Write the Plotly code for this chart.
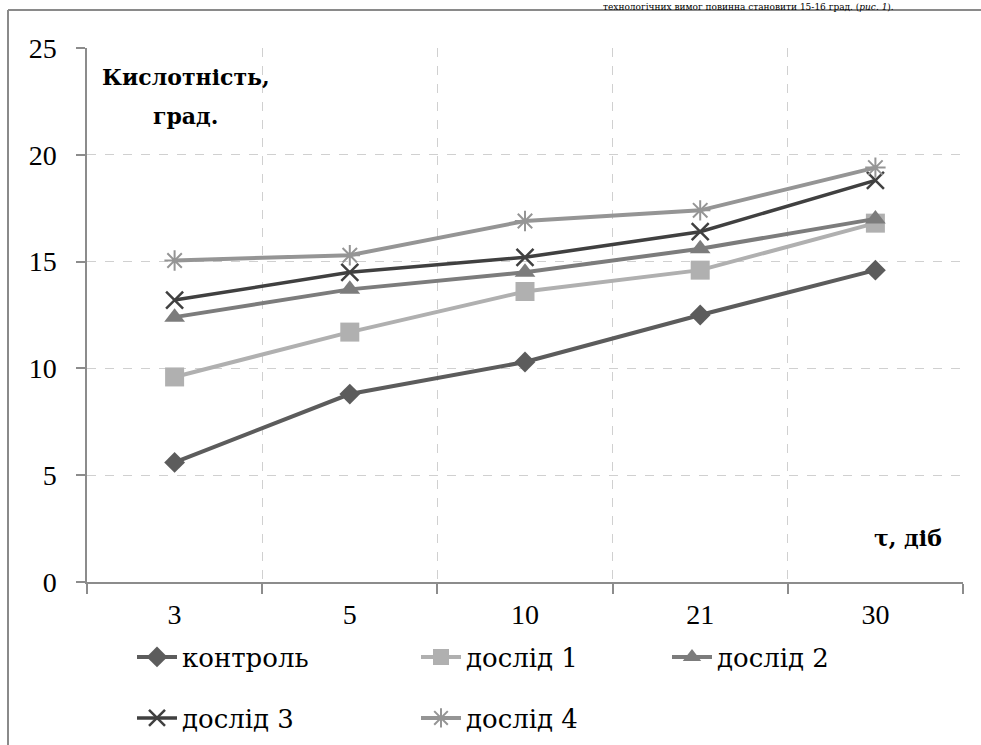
import plotly.graph_objects as go

days = ["3", "5", "10", "21", "30"]
control = [5.6, 8.8, 10.3, 12.5, 14.6]
exp1 = [9.6, 11.7, 13.6, 14.6, 16.8]
exp2 = [12.4, 13.7, 14.5, 15.6, 17.0]
exp3 = [13.2, 14.5, 15.2, 16.4, 18.8]
exp4 = [15.05, 15.3, 16.9, 17.4, 19.4]
series_names = ["контроль", "дослід 1", "дослід 2", "дослід 3", "дослід 4"]
y_ticks = [0, 5, 10, 15, 20, 25]

FONT = "Liberation Serif, serif"
CYR = "DejaVu Serif, Liberation Serif, serif"

series = [
    (series_names[0], control, "#5c5c5c", dict(symbol="diamond", size=16), 4, "legend"),
    (series_names[1], exp1, "#b0b0b0", dict(symbol="square", size=19), 4, "legend2"),
    (series_names[2], exp2, "#7c7c7c", dict(symbol="triangle-up", size=18), 4, "legend3"),
    (series_names[3], exp3, "#404040", dict(symbol="x-thin-open", size=17, line=dict(width=2.5)), 3.5, "legend4"),
    (series_names[4], exp4, "#959595", dict(symbol="asterisk-open", size=17, line=dict(width=2)), 4, "legend5"),
]

fig = go.Figure()
for name, vals, col, mk, lw, lg in series:
    m = dict(mk)
    m["color"] = col
    if "line" in m:
        m["line"] = dict(m["line"], color=col)
    fig.add_trace(go.Scatter(
        x=days, y=vals, name=name, mode="lines+markers",
        line=dict(color=col, width=lw), marker=m, legend=lg,
    ))

W, H = 981, 745
L, R, T, B = 87, 18, 48, 163
pw = W - L - R
ph = H - T - B


def px_x(p):
    return (p - L) / pw


def px_y(p):
    return (H - B - p) / ph


def cx(p):
    return p / W


def cy(p):
    return 1 - p / H


legend_common = dict(orientation="h", font=dict(family=CYR, size=26, color="#000"),
                     bgcolor="rgba(0,0,0,0)", itemwidth=40, yanchor="middle", xanchor="left",
                     xref="container", yref="container")

fig.update_layout(
    width=W, height=H,
    margin=dict(l=L, r=R, t=T, b=B, autoexpand=False),
    paper_bgcolor="white", plot_bgcolor="white",
    font=dict(family=FONT, size=27, color="#000"),
    showlegend=True,
    legend=dict(legend_common, x=cx(132), y=cy(657)),
    legend2=dict(legend_common, x=cx(416), y=cy(657)),
    legend3=dict(legend_common, x=cx(667), y=cy(657)),
    legend4=dict(legend_common, x=cx(132), y=cy(718)),
    legend5=dict(legend_common, x=cx(416), y=cy(718)),
    xaxis=dict(
        type="category", range=[-0.5, 4.5], tickson="boundaries",
        showline=True, linecolor="#8c8c8c", linewidth=1.5,
        ticks="outside", ticklen=10, tickcolor="#8c8c8c", tickwidth=1.5,
        showgrid=True, gridcolor="#d0d0d0", griddash="dash", gridwidth=1,
        tickfont=dict(family=FONT, size=28, color="#000"),
        ticklabelstandoff=7, zeroline=False,
    ),
    yaxis=dict(
        range=[0, 25], tickvals=y_ticks,
        showline=True, linecolor="#8c8c8c", linewidth=1.5,
        ticks="outside", ticklen=9, tickcolor="#8c8c8c", tickwidth=1.5,
        showgrid=True, gridcolor="#d0d0d0", griddash="dash", gridwidth=1,
        tickfont=dict(family=FONT, size=28, color="#000"),
        ticklabelstandoff=14, zeroline=False,
    ),
)

# chart frame (document crop)
fig.add_shape(type="line", xref="paper", yref="paper",
              x0=px_x(8), x1=px_x(985), y0=px_y(10), y1=px_y(10),
              line=dict(color="#8a8a8a", width=2))
fig.add_shape(type="line", xref="paper", yref="paper",
              x0=px_x(8), x1=px_x(8), y0=px_y(10), y1=px_y(750),
              line=dict(color="#8a8a8a", width=2))

# y-axis title inside the plot (two lines)
fig.add_annotation(xref="paper", yref="paper", x=px_x(186), y=px_y(77),
                   text="<b>Кислотність,</b>", showarrow=False,
                   xanchor="center", yanchor="middle",
                   font=dict(family=CYR, size=22, color="#000"))
fig.add_annotation(xref="paper", yref="paper", x=px_x(185), y=px_y(116),
                   text="<b>град.</b>", showarrow=False,
                   xanchor="center", yanchor="middle",
                   font=dict(family=CYR, size=22, color="#000"))
fig.add_annotation(xref="paper", yref="paper", x=px_x(908), y=px_y(538),
                   text="<b>τ, діб</b>", showarrow=False,
                   xanchor="center", yanchor="middle",
                   font=dict(family=CYR, size=22, color="#000"))
# document text above the chart frame
fig.add_annotation(xref="paper", yref="paper", x=px_x(896), y=px_y(0),
                   text="технологічних вимог повинна становити 15-16 град. (<i>рис. 1</i>).",
                   showarrow=False, xanchor="right", yanchor="top",
                   font=dict(family=CYR, size=9, color="#000"))

fig.write_html("out.html", config={"displayModeBar": False},
               post_script="document.body.style.margin='0px';")
